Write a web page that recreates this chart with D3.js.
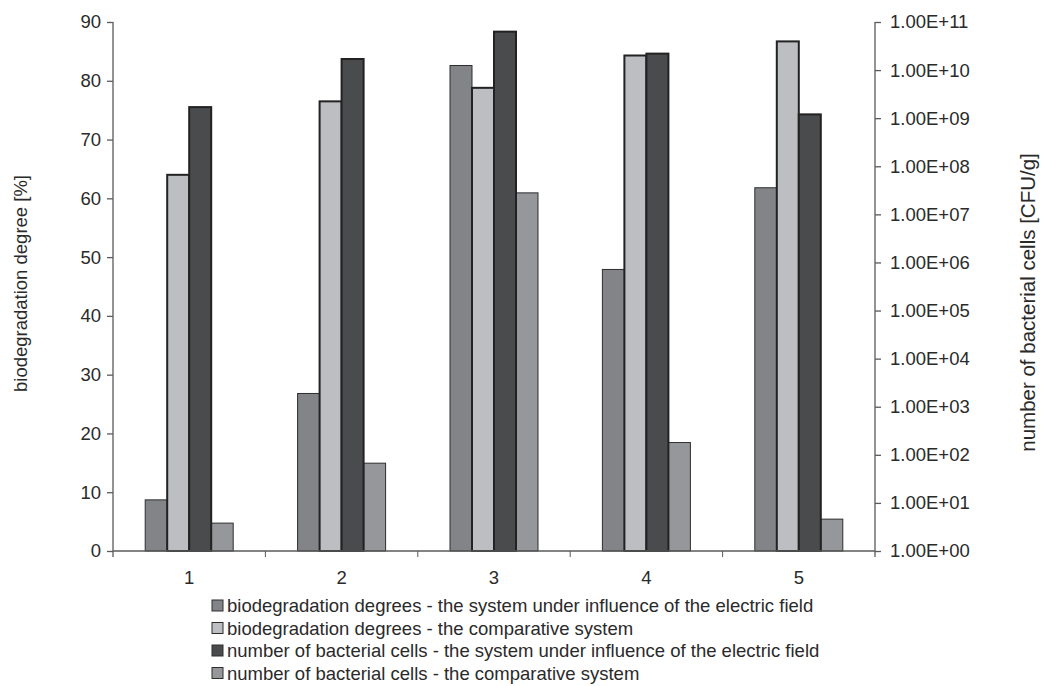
<!DOCTYPE html>
<html>
<head>
<meta charset="utf-8">
<script src="https://cdn.jsdelivr.net/npm/d3@7"></script>
<style>
  html, body { margin: 0; padding: 0; background: #fff; }
  svg text { font-family: "Liberation Sans", Arial, sans-serif; fill: #2a2a2a; }
</style>
</head>
<body>
<svg id="chart" width="1041" height="686"></svg>
<script>
// Sample numbers on the x axis
const categories = ["1", "2", "3", "4", "5"];

// Biodegradation degree [%] (left axis)
const bioElectric    = [8.7, 26.8, 82.6, 47.9, 61.8];
const bioComparative = [64.0, 76.5, 78.8, 84.3, 86.7];

// Number of bacterial cells [CFU/g] (right axis, log scale)
const cellsElectric    = [1.7e9, 1.7e10, 6.3e10, 2.2e10, 1.2e9];
const cellsComparative = [3.8, 67, 2.8e7, 180, 4.6];

const leftTicks  = [0, 10, 20, 30, 40, 50, 60, 70, 80, 90];
const rightTicks = [1e0, 1e1, 1e2, 1e3, 1e4, 1e5, 1e6, 1e7, 1e8, 1e9, 1e10, 1e11];

const seriesNames = [
  "biodegradation degrees - the system under influence of the electric field",
  "biodegradation degrees - the comparative system",
  "number of bacterial cells - the system under influence of the electric field",
  "number of bacterial cells - the comparative system"
];

const fills   = ["#838487", "#bdbec2", "#4a4b4d", "#96979a"];
const strokes = ["#2e2e2e", "#222222", "#222222", "#2e2e2e"];
const strokeW = [1, 2, 2, 1];

const svg = d3.select("#chart");
const plot = { left: 113, right: 875, top: 22, bottom: 551 };

const x = d3.scaleBand()
  .domain(categories)
  .range([plot.left, plot.right])
  .paddingInner(0.4226)
  .paddingOuter(0.2113);

const sub = d3.scaleBand()
  .domain(d3.range(4))
  .range([0, x.bandwidth()]);

const yLeft = d3.scaleLinear().domain([0, 90]).range([plot.bottom, plot.top]);
const yRight = d3.scaleLog().domain([1, 1e11]).range([plot.bottom, plot.top]);

// Flattened records for the bars
const rows = [];
categories.forEach((c, i) => {
  rows.push({ c, s: 0, v: bioElectric[i],     scale: yLeft });
  rows.push({ c, s: 1, v: bioComparative[i],  scale: yLeft });
  rows.push({ c, s: 2, v: cellsElectric[i],   scale: yRight });
  rows.push({ c, s: 3, v: cellsComparative[i], scale: yRight });
});

// Bars: outer bars first, so the heavier-outlined inner pair sits on top
const order = [0, 3, 1, 2];
svg.append("g")
  .selectAll("rect")
  .data(rows.slice().sort((a, b) => order.indexOf(a.s) - order.indexOf(b.s)))
  .join("rect")
  .attr("x", d => x(d.c) + sub(d.s))
  .attr("width", sub.bandwidth())
  .attr("y", d => d.scale(d.v))
  .attr("height", d => plot.bottom - d.scale(d.v))
  .attr("fill", d => fills[d.s])
  .attr("stroke", d => strokes[d.s])
  .attr("stroke-width", d => strokeW[d.s]);

const axisColor = "#5a5a5a";
const fontSize = "18.5px";

// Left axis
const gL = svg.append("g")
  .attr("transform", `translate(${plot.left},0)`)
  .call(d3.axisLeft(yLeft).tickValues(leftTicks).tickSize(6).tickPadding(6).tickSizeOuter(0));
gL.select(".domain").attr("d", `M0,${plot.top}V${plot.bottom + 6}`);

// Right axis
const gR = svg.append("g")
  .attr("transform", `translate(${plot.right},0)`)
  .call(d3.axisRight(yRight).tickValues(rightTicks).tickSize(6).tickPadding(9).tickSizeOuter(0)
    .tickFormat(d => {
      const e = Math.round(Math.log10(d));
      return "1.00E+" + String(e).padStart(2, "0");
    }));
gR.select(".domain").attr("d", `M0,${plot.top}V${plot.bottom + 6}`);

// Bottom axis: labels centred on each group, ticks on group boundaries
const gB = svg.append("g")
  .attr("transform", `translate(0,${plot.bottom})`)
  .call(d3.axisBottom(x).tickSize(0).tickPadding(20));
gB.select(".domain").attr("d", `M${plot.left},0H${plot.right}`);
const boundaries = categories.map(c => x(c) - x.step() * x.paddingInner() / 2).slice(1);
gB.selectAll(".sep")
  .data(boundaries)
  .join("line")
  .attr("class", "sep")
  .attr("x1", d => d).attr("x2", d => d)
  .attr("y1", 0).attr("y2", 6)
  .attr("stroke", axisColor);

[gL, gR, gB].forEach(g => {
  g.selectAll(".domain").attr("stroke", axisColor).attr("stroke-width", 1.3);
  g.selectAll(".tick line").attr("stroke", axisColor).attr("stroke-width", 1.3);
  g.selectAll("text")
    .attr("font-family", "Liberation Sans, Arial, sans-serif")
    .attr("font-size", fontSize)
    .attr("fill", "#2a2a2a");
});

// Axis titles
svg.append("text")
  .attr("transform", `translate(27,${(plot.top + plot.bottom) / 2 - 3}) rotate(-90)`)
  .attr("text-anchor", "middle")
  .attr("font-size", fontSize)
  .text("biodegradation degree [%]");

svg.append("text")
  .attr("transform", `translate(1035,${(plot.top + plot.bottom) / 2 + 16}) rotate(-90)`)
  .attr("text-anchor", "middle")
  .attr("font-size", "20.5px")
  .text("number of bacterial cells [CFU/g]");

// Legend
const legend = svg.append("g").attr("transform", "translate(212,600)");
const rowH = 22.5;
seriesNames.forEach((name, i) => {
  const g = legend.append("g").attr("transform", `translate(0,${i * rowH})`);
  g.append("rect")
    .attr("x", 0).attr("y", 0)
    .attr("width", 11).attr("height", 11)
    .attr("fill", fills[i])
    .attr("stroke", "#2e2e2e")
    .attr("stroke-width", 1);
  g.append("text")
    .attr("x", 15).attr("y", 12)
    .attr("font-size", fontSize)
    .text(name);
});
</script>
</body>
</html>
